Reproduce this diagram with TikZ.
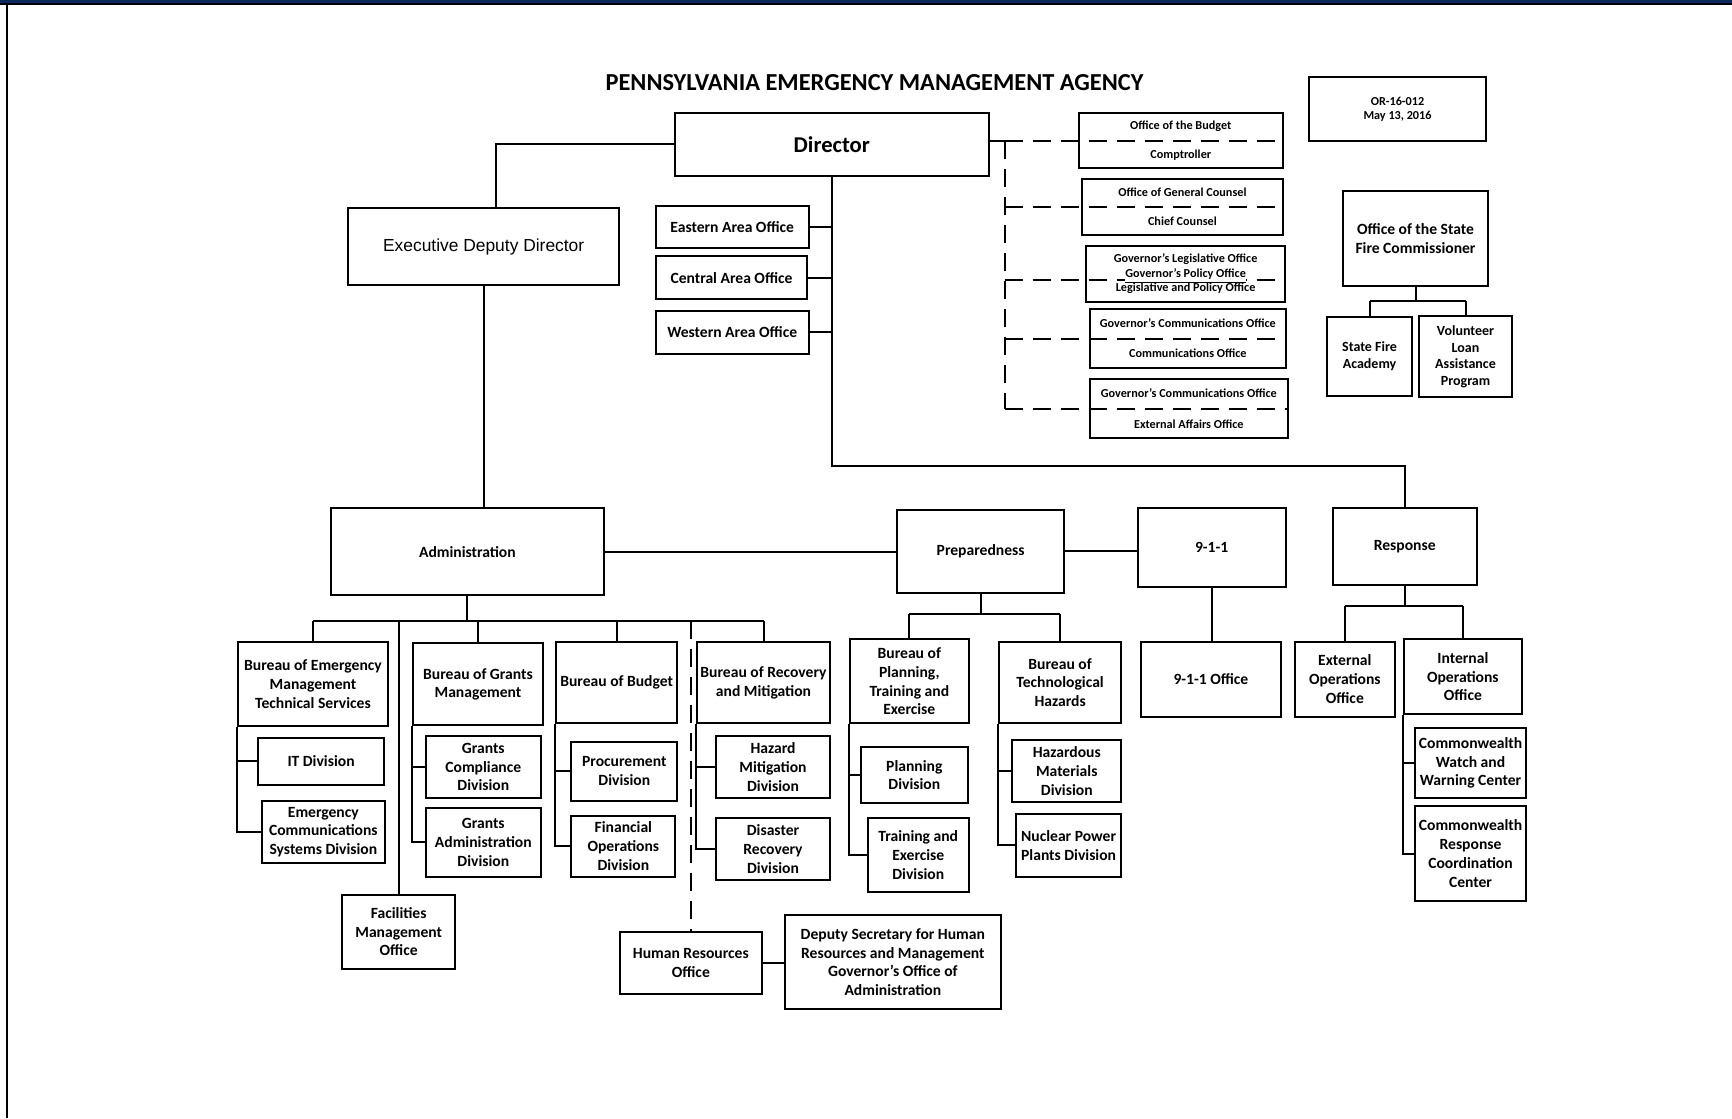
\documentclass[tikz,border=0pt]{standalone}
\usepackage{fontspec}
\setmainfont{Carlito}
\newfontfamily\arialfont{Liberation Sans}
\usepackage{tikz}
\usetikzlibrary{calc}
\definecolor{pemanavy}{RGB}{12,42,92}
% box from its two corners (x1,y1) (x2,y2), in pixels
\newcommand{\orgbox}[7][]{\node[box,#1,minimum width={(#5-#3)*0.5pt},minimum height={(#6-#4)*0.5pt}] (#2) at ({(#3+#5)/2},{(#4+#6)/2}) {#7};}

\begin{document}
\begin{tikzpicture}[line join=miter,x=0.5pt,y=-0.5pt,
  box/.style={draw,line width=1pt,inner sep=0pt,align=center,font=\fontsize{7.8}{9.4}\selectfont\bfseries},
  tiny/.style={inner sep=0pt,align=center,font=\fontsize{6.1}{7}\selectfont\bfseries},
  conn/.style={line width=1pt},
  dconn/.style={line width=1pt,dash pattern=on 9pt off 5pt}]
\useasboundingbox (0,0) rectangle (1732,1118);
% page frame
\fill[pemanavy] (0,0) rectangle (1732,3);
\fill[black] (0,3) rectangle (1732,5.5);
\fill[black] (5.5,5) rectangle (8,1118);

\node[font=\fontsize{12.2}{14}\selectfont\bfseries] (title) at (874.5,83) {PENNSYLVANIA EMERGENCY MANAGEMENT AGENCY};
\orgbox[font=\fontsize{6.1}{7}\selectfont\bfseries]{orno}{1309}{77}{1486}{141}{OR-16-012\\May 13, 2016}

% top level
\orgbox[font=\fontsize{11.3}{13}\selectfont\bfseries]{dir}{675}{113}{988.6}{176}{Director}
\orgbox[font=\fontsize{8.7}{10}\selectfont\arialfont\mdseries]{edd}{348.3}{208.3}{619}{285}{Executive Deputy Director}
\orgbox{east}{655.8}{205.7}{808.6}{248.3}{Eastern Area Office}
\orgbox{cent}{655.8}{256}{807.3}{299.3}{Central Area Office}
\orgbox{west}{655.8}{310.7}{808.6}{354}{Western Area Office}

% offices with a dashed link
\orgbox{budg}{1079}{113.3}{1282.5}{168.3}{}
\orgbox{coun}{1082.3}{179.3}{1282.5}{235}{}
\orgbox{legi}{1086.4}{246}{1284.8}{301.7}{}
\orgbox{comm}{1089.6}{309.3}{1286.1}{367.7}{}
\orgbox{extaff}{1089.6}{379.3}{1288}{438.3}{}
\coordinate (dtrk) at (1004.7,140.8);
\coordinate (legiln) at ($(legi.center)+(0,6)$);
\draw[conn] (dir.east |- budg) -- (dtrk);
\draw[dconn] (dtrk) -- (dtrk |- extaff);
\draw[dconn] (dtrk) -- (budg.east);
\draw[dconn] (dtrk |- coun) -- (coun.east);
\draw[dconn] (dtrk |- legiln) -- (legi.east |- legiln);
\draw[dconn] (dtrk |- comm) -- (comm.east);
\draw[dconn] (dtrk |- extaff) -- (extaff.east);
\node[tiny] (budg1) at ($(budg.north)!.5!(budg.center)$) {Office of the Budget};
\node[tiny] (budg2) at ($(budg.south)!.5!(budg.center)$) {Comptroller};
\node[tiny] (coun1) at ($(coun.north)!.5!(coun.center)$) {Office of General Counsel};
\node[tiny] (coun2) at ($(coun.south)!.5!(coun.center)$) {Chief Counsel};
\node[tiny] (legi1) at ($(legi.center)+(0,-14.7)$) {Governor’s Legislative Office};
\node[tiny,fill=white] (legi2) at ($(legi.center)+(0,2)$) {\underline{Governor’s Policy Office}};
\node[tiny] (legi3) at ($(legi.center)+(0,14.7)$) {Legislative and Policy Office};
\node[tiny] (comm1) at ($(comm.north)!.5!(comm.center)$) {Governor’s Communications Office};
\node[tiny] (comm2) at ($(comm.south)!.5!(comm.center)$) {Communications Office};
\node[tiny] (extaff1) at ($(extaff.north)!.5!(extaff.center)$) {Governor’s Communications Office};
\node[tiny] (extaff2) at ($(extaff.south)!.5!(extaff.center)$) {External Affairs Office};

% fire commissioner
\orgbox{fire}{1342.7}{191}{1488.3}{285.7}{Office of the State\\Fire Commissioner}
\orgbox[font=\fontsize{7}{8.3}\selectfont\bfseries]{acad}{1327.3}{316.7}{1411.7}{395.7}{State Fire\\Academy}
\orgbox[font=\fontsize{7}{8.3}\selectfont\bfseries]{vol}{1419.3}{316}{1511.7}{397.3}{Volunteer\\Loan\\Assistance\\Program}

% deputates
\orgbox{adm}{331}{508.3}{603.8}{595}{Administration}
\orgbox{prep}{897.3}{510}{1064}{592.7}{Preparedness}
\orgbox{n911}{1137.5}{508.3}{1285.8}{587.3}{9-1-1}
\orgbox{resp}{1332.7}{508.3}{1476.7}{585}{Response}

% administration
\orgbox{bemts}{238.4}{641.7}{387.6}{726}{Bureau of Emergency\\Management\\Technical Services}
\orgbox{it}{258.3}{737.7}{383.8}{785}{IT Division}
\orgbox{ecs}{262.1}{800.7}{384.6}{863.3}{Emergency\\Communications\\Systems Division}
\orgbox{fac}{342.4}{894.7}{455}{968.7}{Facilities\\Management\\Office}
\orgbox{grnt}{413.3}{643.3}{542.6}{725.3}{Bureau of Grants\\Management}
\orgbox{gcd}{425.9}{735.7}{540.7}{798.3}{Grants\\Compliance\\Division}
\orgbox{gad}{425.9}{807.7}{540.7}{876.7}{Grants\\Administration\\Division}
\orgbox{bbud}{556}{641.7}{677.3}{723.3}{Bureau of Budget}
\orgbox{proc}{571.3}{741.7}{677.3}{800.7}{Procurement\\Division}
\orgbox{fin}{571.3}{815.7}{675.4}{876.7}{Financial\\Operations\\Division}
\orgbox{brec}{697.2}{641.7}{829.8}{723.3}{Bureau of Recovery\\and Mitigation}
\orgbox{hmd}{716.4}{735.7}{829.6}{798.3}{Hazard\\Mitigation\\Division}
\orgbox{drd}{716.4}{818.3}{829.6}{880}{Disaster\\Recovery\\Division}
\orgbox{hr}{620}{931.7}{761.7}{994}{Human Resources\\Office}
\orgbox{dsec}{785}{915}{1000.7}{1009.3}{Deputy Secretary for Human\\Resources and Management\\Governor’s Office of\\Administration}

% preparedness
\orgbox{bptx}{849.6}{639.3}{969}{723.3}{Bureau of\\Planning,\\Training and\\Exercise}
\orgbox{pld}{861}{746.7}{967.6}{803.3}{Planning\\Division}
\orgbox{ted}{867.5}{817.7}{969}{892.3}{Training and\\Exercise\\Division}
\orgbox{bth}{998.8}{641.7}{1121.4}{723.3}{Bureau of\\Technological\\Hazards}
\orgbox{hzm}{1012.1}{740}{1121.4}{802.3}{Hazardous\\Materials\\Division}
\orgbox{npp}{1015.8}{814}{1121.4}{876.7}{Nuclear Power\\Plants Division}

% 9-1-1 and response
\orgbox{o911}{1141.1}{641.7}{1280.7}{716.7}{9-1-1 Office}
\orgbox{exop}{1294.6}{641.7}{1395.1}{716.7}{External\\Operations\\Office}
\orgbox{inop}{1404}{639.3}{1521.7}{714}{Internal\\Operations\\Office}
\orgbox{cwwc}{1415}{728.3}{1526}{797.7}{Commonwealth\\Watch and\\Warning Center}
\orgbox{crcc}{1415}{806}{1526}{901}{Commonwealth\\Response\\Coordination\\Center}

% lines
\coordinate (rbend) at (1100,466);
\coordinate (abus) at (500,621);
\coordinate (pbus) at (980,614);
\coordinate (rbus) at (1400,605.7);
\coordinate (fbus) at (1415,300.7);
\draw[conn] (dir.west) -| ([xshift=6pt]edd.north);
\draw[conn] (edd.south) -- (edd.south |- adm.north);
\draw[conn] (dir.south) |- (rbend) -| (resp.north);
\foreach \a in {east,cent,west}
  \draw[conn] (\a.east) -- (\a.east -| dir.south);
\draw[conn] (adm.east) -- (adm.east -| prep.west);
\draw[conn] (prep.east) -- (prep.east -| n911.west);

\draw[conn] (adm.south) -- (adm.south |- abus);
\draw[conn] (bemts.north |- abus) -- (brec.north |- abus);
\foreach \b in {bemts,grnt,bbud,brec,fac}
  \draw[conn] (\b.north |- abus) -- (\b.north);
\draw[dconn] (hr.north |- abus) -- (hr.north);
\draw[conn] (hr.east) -- (hr.east -| dsec.west);

\draw[conn] (prep.south) -- (prep.south |- pbus);
\draw[conn] (bptx.north |- pbus) -- (bth.north |- pbus);
\foreach \b in {bptx,bth}
  \draw[conn] (\b.north |- pbus) -- (\b.north);
\draw[conn] (n911.south) -- (n911.south |- o911.north);

\draw[conn] (resp.south) -- (resp.south |- rbus);
\draw[conn] (exop.north |- rbus) -- (inop.north |- rbus);
\foreach \b in {exop,inop}
  \draw[conn] (\b.north |- rbus) -- (\b.north);

\draw[conn] (fire.south) -- (fire.south |- fbus);
\draw[conn] (acad.north |- fbus) -- (vol.north |- fbus);
\foreach \b in {acad,vol}
  \draw[conn] (\b.north |- fbus) -- (\b.north);

% divisions hang off the left edge of their bureau
\foreach \p/\c in {bemts/it,bemts/ecs,grnt/gcd,grnt/gad,bbud/proc,bbud/fin,brec/hmd,brec/drd,bptx/pld,bptx/ted,bth/hzm,bth/npp,inop/cwwc,inop/crcc}
  \draw[conn] (\p.south west) |- (\c.west);
\end{tikzpicture}
\end{document}
